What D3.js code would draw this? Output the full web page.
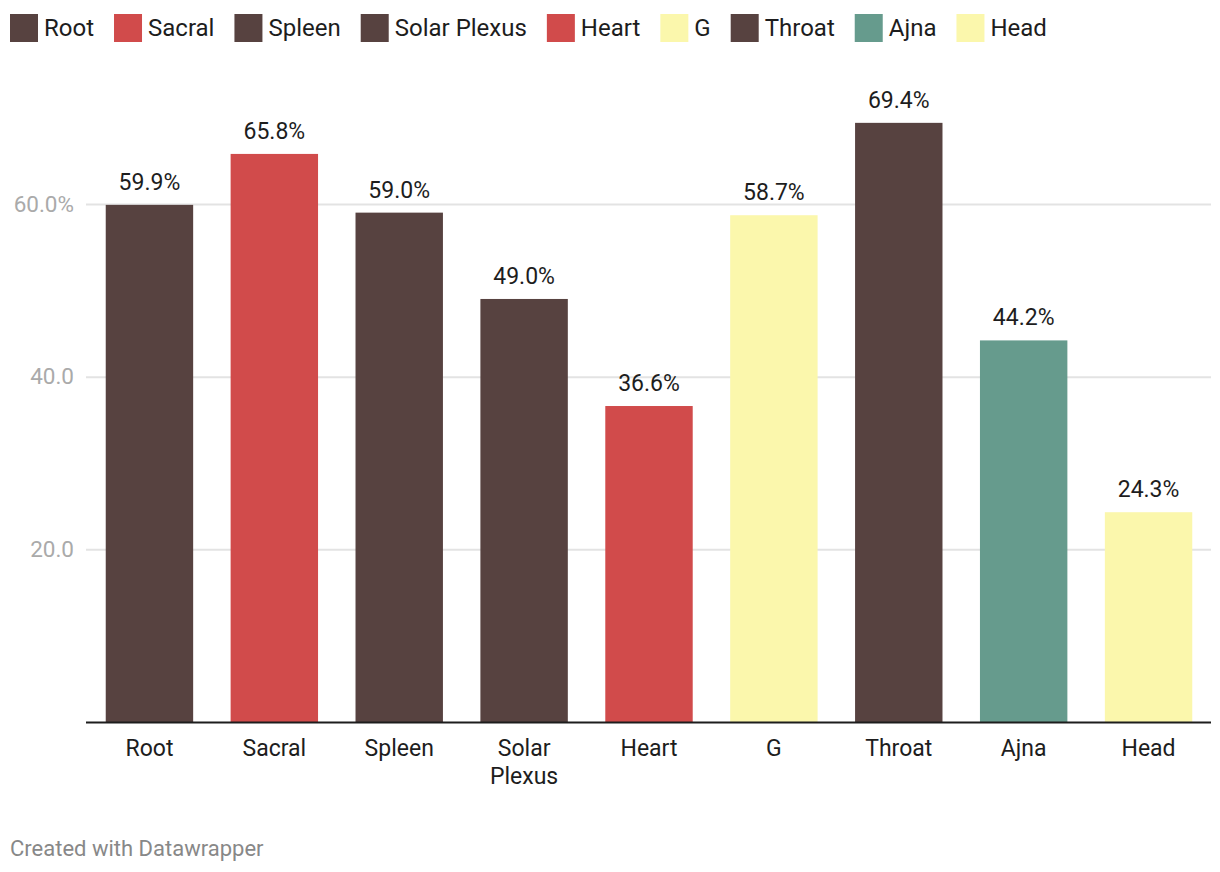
<!DOCTYPE html>
<html>
<head>
<meta charset="utf-8">
<script src="https://cdn.jsdelivr.net/npm/d3@7"></script>
<style>
  body { margin: 0; background: #fff; font-family: Roboto, "Noto Sans", sans-serif; }
</style>
</head>
<body>
<div id="chart"></div>
<script>
// data
const centers = ["Root", "Sacral", "Spleen", "Solar Plexus", "Heart", "G", "Throat", "Ajna", "Head"];
const values = [59.9, 65.8, 59.0, 49.0, 36.6, 58.7, 69.4, 44.2, 24.3];
const colors = ["#574240", "#d14b4b", "#574240", "#574240", "#d14b4b", "#fbf7ac", "#574240", "#669b8d", "#fbf7ac"];
const yTicks = [20, 40, 60];

const W = 1220, H = 872;
const margin = {top: 204, right: 9, bottom: 150, left: 87};

const svg = d3.select("#chart")
  .append("svg")
  .attr("width", W)
  .attr("height", H);

// scales
const x = d3.scaleBand()
  .domain(centers)
  .range([margin.left, W - margin.right])
  .paddingInner(0.3)
  .paddingOuter(0.15);

const y = d3.scaleLinear()
  .domain([0, 60])
  .range([H - margin.bottom, margin.top]);

// gridlines + y labels
const grid = svg.append("g")
  .attr("transform", `translate(${margin.left - 1},0)`)
  .call(d3.axisLeft(y)
    .tickValues(yTicks)
    .tickSize(-(W - margin.left - margin.right + 1))
    .tickPadding(12)
    .tickFormat(d => d === 60 ? d.toFixed(1) + "%" : d.toFixed(1)));
grid.select(".domain").remove();
grid.selectAll(".tick line").attr("stroke", "#e3e3e3").attr("stroke-width", 2);
grid.selectAll(".tick text")
  .attr("fill", "#aaaaaa")
  .attr("font-size", 22.5)
  .attr("font-family", "Roboto, sans-serif")
  .attr("x", -12);

// bars
svg.append("g")
  .selectAll("rect")
  .data(values)
  .join("rect")
  .attr("x", (d, i) => x(centers[i]))
  .attr("y", d => y(d))
  .attr("width", x.bandwidth())
  .attr("height", d => y(0) - y(d))
  .attr("fill", (d, i) => colors[i]);

// value labels
svg.append("g")
  .selectAll("text")
  .data(values)
  .join("text")
  .attr("x", (d, i) => x(centers[i]) + x.bandwidth() / 2)
  .attr("y", d => y(d) - 15)
  .attr("text-anchor", "middle")
  .attr("font-size", 23)
  .attr("fill", "#1d1d1d")
  .text(d => d.toFixed(1) + "%");

// baseline
svg.append("line")
  .attr("x1", margin.left - 1)
  .attr("x2", W - margin.right)
  .attr("y1", y(0) + 0.5)
  .attr("y2", y(0) + 0.5)
  .attr("stroke", "#1d1d1d")
  .attr("stroke-width", 2);

// x labels (wrap "Solar Plexus")
const xl = svg.append("g")
  .selectAll("text")
  .data(centers)
  .join("text")
  .attr("x", d => x(d) + x.bandwidth() / 2)
  .attr("y", y(0) + 34)
  .attr("text-anchor", "middle")
  .attr("font-size", 23)
  .attr("fill", "#1d1d1d");
xl.each(function(d) {
  const words = d.split(" ");
  const t = d3.select(this);
  words.forEach((w, i) => {
    t.append("tspan")
      .attr("x", x(d) + x.bandwidth() / 2)
      .attr("dy", i === 0 ? 0 : 28)
      .text(w);
  });
});

// legend
const legend = svg.append("g").attr("transform", "translate(10,14)");
let lx = 0;
centers.forEach((c, i) => {
  const g = legend.append("g").attr("transform", `translate(${lx},0)`);
  g.append("rect").attr("width", 28).attr("height", 28).attr("fill", colors[i]);
  const t = g.append("text")
    .attr("x", 34)
    .attr("y", 22)
    .attr("font-size", 24)
    .attr("fill", "#1d1d1d")
    .text(c);
  lx += 34 + t.node().getComputedTextLength() + 20;
});

// footer
svg.append("text")
  .attr("x", 10)
  .attr("y", 856)
  .attr("font-size", 22)
  .attr("fill", "#888888")
  .text("Created with Datawrapper");
</script>
</body>
</html>
